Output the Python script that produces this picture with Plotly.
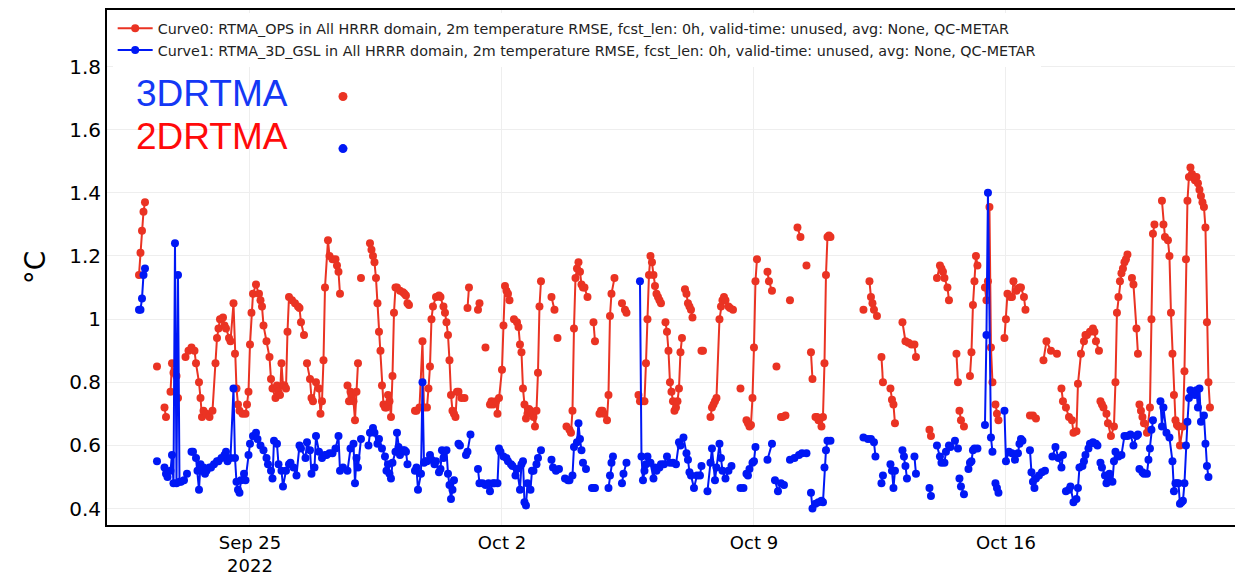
import plotly.graph_objects as go
from datetime import datetime, timedelta

# time axis: hours since 2022-09-21 00:00
BASE = datetime(2022, 9, 21)

red_name = "Curve0: RTMA_OPS in All HRRR domain, 2m temperature RMSE, fcst_len: 0h, valid-time: unused, avg: None, QC-METAR"
blue_name = "Curve1: RTMA_3D_GSL in All HRRR domain, 2m temperature RMSE, fcst_len: 0h, valid-time: unused, avg: None, QC-METAR"

# RTMA_OPS (red) segments of (hour, RMSE)
red_segments = [
    [(22, 1.14), (23, 1.21), (24, 1.28), (25, 1.34), (26, 1.37)],
    [(34, 0.85)],
    [(39, 0.72), (40, 0.69)],
    [(43, 0.77), (44, 0.86), (45, 0.83), (46, 0.83), (47, 0.82), (48, 0.75)],
    [(53, 0.88), (55, 0.90), (57, 0.91), (59, 0.90), (60, 0.86), (62, 0.80), (63, 0.75), (64, 0.69), (65, 0.71),
     (67, 0.70), (69, 0.69), (71, 0.71), (73, 0.86), (74, 0.94), (75, 0.97), (76, 1.00), (78, 1.005), (79, 0.98),
     (80, 0.97), (82, 0.94), (83, 0.93), (85, 1.05), (86, 0.89), (87, 0.78), (88, 0.73), (89, 0.71), (91, 0.70),
     (93, 0.70), (94, 0.73), (95, 0.77), (96, 0.92), (97, 1.02), (98, 1.08), (100, 1.11), (102, 1.08), (103, 1.06),
     (104, 1.04), (105, 0.98), (107, 0.93), (109, 0.88), (110, 0.81), (111, 0.78), (113, 0.75), (114, 0.79),
     (115, 0.77), (116, 0.76), (117, 0.86), (118, 0.79), (119, 0.79), (120, 0.78), (121, 0.96), (122, 1.07),
     (124, 1.06), (126, 1.05), (128, 1.04), (129, 1.035), (130, 0.99), (132, 0.95)],
    [(134, 0.86), (136, 0.81), (137, 0.75), (138, 0.74), (140, 0.80), (142, 0.78), (143, 0.70), (144, 0.74),
     (145, 0.87), (146, 1.10), (148, 1.25), (149, 1.20), (151, 1.19), (153, 1.19), (154, 1.17), (155, 1.15), (156, 1.08)],
    [(161, 0.79), (162, 0.74), (163, 0.77), (164, 0.76), (165, 0.74), (166, 0.68), (167, 0.77), (168, 0.86)],
    [(170, 1.13)],
    [(176, 1.24), (177, 1.22), (178, 1.20), (179, 1.18), (180, 1.13), (181, 1.05), (182, 0.96), (183, 0.90),
     (184, 0.79), (185, 0.73), (186, 0.72), (187, 0.72), (188, 0.76), (189, 0.74), (190, 0.69), (191, 0.82),
     (192, 1.02), (193, 1.10), (194, 1.10), (196, 1.09), (198, 1.085), (199, 1.08), (200, 1.075), (201, 1.05), (202, 1.045)],
    [(206, 0.71), (207, 0.71), (209, 0.72), (211, 0.93), (212, 0.72), (214, 0.72), (215, 0.78), (216, 0.85),
     (217, 1.00), (218, 1.04), (220, 1.07), (222, 1.075), (223, 1.07), (225, 1.04), (226, 1.02), (227, 0.99),
     (228, 0.95), (229, 0.87), (230, 0.76), (231, 0.71), (232, 0.70), (233, 0.69), (234, 0.77), (235, 0.77),
     (237, 0.75), (239, 0.75)],
    [(241, 1.035), (242, 1.10)],
    [(248, 1.03), (249, 1.05)],
    [(253, 0.91)],
    [(256, 0.73), (257, 0.74), (258, 0.73), (260, 0.74), (261, 0.70), (262, 0.75), (264, 0.84), (265, 0.98),
     (266, 1.105), (267, 1.09), (268, 1.08), (269, 1.06)],
    [(272, 1.00), (274, 0.99), (275, 0.975), (276, 0.92), (277, 0.895), (278, 0.78), (279, 0.73), (280, 0.685),
     (281, 0.70), (282, 0.715), (283, 0.71), (284, 0.705), (285, 0.69), (286, 0.66), (287, 0.71), (288, 0.83),
     (289, 1.04), (290, 1.12)],
    [(297, 1.07), (299, 1.03)],
    [(301, 0.94)],
    [(307, 0.66), (309, 0.65), (310, 0.64), (311, 0.71), (312, 0.97), (313, 1.13), (314, 1.16), (315, 1.18),
     (316, 1.15), (317, 1.11), (318, 1.10), (319, 1.10), (321, 1.07)],
    [(325, 0.99), (326, 0.93)],
    [(329, 0.70), (330, 0.71), (331, 0.71), (332, 0.70), (334, 0.68), (335, 0.76), (336, 1.01), (337, 1.08), (339, 1.13)],
    [(344, 1.05), (346, 1.03), (347, 1.02)],
    [(355, 0.76), (356, 0.74), (357, 0.74), (359, 0.74), (360, 0.86), (361, 1.00), (362, 1.14), (363, 1.20),
     (364, 1.18), (365, 1.14), (366, 1.105), (367, 1.08), (368, 1.07), (369, 1.06), (370, 1.05)],
    [(373, 0.99), (374, 0.96), (375, 0.90), (376, 0.80), (377, 0.77), (378, 0.74), (379, 0.71), (380, 0.72),
     (381, 0.74), (382, 0.78), (383, 0.895), (384, 0.94)],
    [(386, 1.095), (387, 1.08), (388, 1.05), (389, 1.04), (390, 1.03), (391, 1.005)],
    [(397, 0.90), (398, 0.90)],
    [(403, 0.69), (404, 0.72), (405, 0.73), (406, 0.74), (407, 0.75), (409, 1.00), (410, 1.04), (411, 1.06),
     (412, 1.07), (413, 1.06), (415, 1.04), (416, 1.035), (418, 1.03)],
    [(423, 0.78)],
    [(427, 0.68), (428, 0.67), (429, 0.66), (430, 0.665), (431, 0.75), (432, 0.91), (433, 1.12), (434, 1.19)],
    [(441, 1.15), (442, 1.12), (444, 1.09)],
    [(447, 0.85)],
    [(450, 0.69), (451, 0.69), (453, 0.695)],
    [(456, 1.06)],
    [(461, 1.29), (463, 1.26)],
    [(467, 1.17)],
    [(470, 0.895), (471, 0.81)],
    [(473, 0.69), (474, 0.69), (475, 0.68), (477, 0.66), (478, 0.69), (479, 0.86), (480, 1.14), (481, 1.26),
     (482, 1.265), (483, 1.26)],
    [(505, 1.03)],
    [(509, 1.12), (510, 1.07), (511, 1.05), (512, 1.03), (514, 1.01)],
    [(517, 0.88), (518, 0.80)],
    [(523, 0.78), (524, 0.745), (525, 0.73), (526, 0.67)],
    [(531, 0.99), (533, 0.93), (535, 0.925), (537, 0.92), (539, 0.92), (540, 0.88)],
    [(549, 0.65), (550, 0.63)],
    [(554, 1.13), (556, 1.17), (557, 1.16), (558, 1.15), (559, 1.13), (561, 1.10), (562, 1.06)],
    [(567, 0.89), (568, 0.80)],
    [(569, 0.71), (570, 0.68), (572, 0.66)],
    [(576, 0.82), (577, 0.895), (578, 1.045), (579, 1.12), (580, 1.20), (581, 1.17)],
    [(586, 1.10), (587, 1.06), (588, 1.12), (589, 1.355), (590, 0.91), (591, 0.80)],
    [(593, 0.73), (594, 0.70), (595, 0.68)],
    [(599, 0.94), (600, 1.00), (601, 1.08), (603, 1.07), (604, 1.07), (605, 1.12), (607, 1.09), (609, 1.10),
     (610, 1.10), (612, 1.07), (613, 1.03)],
    [(616, 0.695), (618, 0.695), (620, 0.685)],
    [(625, 0.87), (627, 0.93), (630, 0.90), (634, 0.89)],
    [(637, 0.78), (638, 0.74), (640, 0.72), (642, 0.69), (644, 0.68), (645, 0.64), (647, 0.645), (648, 0.795),
     (650, 0.89), (652, 0.93), (653, 0.95), (654, 0.95), (656, 0.96), (658, 0.97), (659, 0.96), (660, 0.93), (662, 0.90)],
    [(663, 0.74), (664, 0.73), (665, 0.72), (667, 0.70), (668, 0.67), (670, 0.63), (672, 0.66), (673, 0.80),
     (674, 1.02), (675, 1.07), (676, 1.12), (677, 1.145), (678, 1.16), (679, 1.18), (680, 1.19), (681, 1.205)],
    [(684, 1.13), (685, 1.11), (687, 0.97), (688, 0.89)],
    [(689, 0.73), (690, 0.71), (691, 0.69), (692, 0.67), (694, 0.64), (696, 0.72), (697, 1.00), (698, 1.27), (699, 1.30)],
    [(704, 1.375), (705, 1.30), (706, 1.26), (708, 1.25), (709, 1.20), (710, 1.02), (711, 0.89), (712, 0.76),
     (713, 0.68), (714, 0.665), (715, 0.66), (716, 0.60), (718, 0.66), (719, 0.835), (720, 1.19), (721, 1.375),
     (722, 1.45), (723, 1.48), (724, 1.46), (725, 1.45), (726, 1.44), (727, 1.45), (728, 1.43), (729, 1.41),
     (730, 1.39), (731, 1.37), (732, 1.355), (733, 1.29), (734, 0.99), (735, 0.80), (736, 0.72)],
]

# RTMA_3D_GSL (blue) segments of (hour, RMSE)
blue_segments = [
    [(22, 1.03), (23, 1.03), (24, 1.065), (25, 1.14), (26, 1.16)],
    [(34, 0.55)],
    [(39, 0.53), (40, 0.51), (41, 0.50), (43, 0.52), (44, 0.57), (45, 0.48), (46, 1.24), (47, 0.48), (48, 1.14),
     (49, 0.485), (50, 0.485), (52, 0.49), (54, 0.51)],
    [(57, 0.58), (58, 0.58), (60, 0.56), (61, 0.52), (62, 0.46), (63, 0.54), (64, 0.52), (65, 0.53), (66, 0.51),
     (67, 0.52), (69, 0.53), (70, 0.53), (72, 0.54), (74, 0.55), (75, 0.55), (77, 0.56), (79, 0.57), (80, 0.58),
     (81, 0.55), (83, 0.56), (85, 0.78), (86, 0.56), (87, 0.485), (88, 0.46), (89, 0.45), (90, 0.49), (92, 0.51),
     (93, 0.49), (95, 0.57), (96, 0.605), (98, 0.63), (100, 0.64), (101, 0.62), (103, 0.60), (105, 0.585),
     (107, 0.56), (108, 0.54), (110, 0.52), (111, 0.495), (112, 0.615), (114, 0.605), (115, 0.54), (117, 0.52),
     (118, 0.47), (120, 0.52), (122, 0.54), (123, 0.545), (125, 0.53), (127, 0.505), (129, 0.60), (130, 0.59),
     (133, 0.56), (134, 0.61), (136, 0.585), (137, 0.51), (139, 0.53), (140, 0.63), (142, 0.58), (144, 0.56),
     (146, 0.57), (147, 0.57), (149, 0.575), (151, 0.575), (153, 0.59), (155, 0.63), (156, 0.52), (158, 0.53)],
    [(161, 0.52), (163, 0.59), (165, 0.605), (166, 0.48), (167, 0.56), (168, 0.53), (170, 0.62)],
    [(175, 0.60), (176, 0.64), (178, 0.655), (179, 0.64), (181, 0.605), (182, 0.62), (184, 0.59), (186, 0.565),
     (187, 0.52), (188, 0.54), (189, 0.51), (190, 0.495), (191, 0.545), (193, 0.58), (194, 0.64), (195, 0.595),
     (196, 0.57), (198, 0.585), (199, 0.585), (200, 0.58), (201, 0.54)],
    [(206, 0.52), (207, 0.53), (208, 0.46), (210, 0.51), (211, 0.80), (212, 0.545), (213, 0.55), (214, 0.55),
     (216, 0.57), (217, 0.555), (219, 0.54), (220, 0.55), (222, 0.515), (223, 0.525), (224, 0.585), (225, 0.56),
     (227, 0.585), (228, 0.51), (229, 0.475), (230, 0.43), (231, 0.46), (232, 0.49)],
    [(235, 0.605), (236, 0.60)],
    [(240, 0.57), (241, 0.58), (243, 0.635)],
    [(248, 0.525), (249, 0.48), (251, 0.48), (253, 0.475), (255, 0.48), (256, 0.455), (258, 0.48), (259, 0.48),
     (261, 0.48), (262, 0.59), (263, 0.58), (265, 0.565), (267, 0.56), (268, 0.55), (270, 0.54), (271, 0.535),
     (273, 0.505), (274, 0.525), (276, 0.46), (277, 0.54), (278, 0.55), (279, 0.42), (280, 0.41), (281, 0.48),
     (283, 0.46), (284, 0.52), (285, 0.52), (287, 0.54), (288, 0.56), (290, 0.585)],
    [(297, 0.555), (298, 0.53), (300, 0.52), (302, 0.525)],
    [(306, 0.495), (308, 0.49), (309, 0.49), (311, 0.505), (312, 0.595), (314, 0.61), (315, 0.67), (316, 0.62), (317, 0.585)],
    [(318, 0.545), (320, 0.525)],
    [(324, 0.465), (325, 0.465), (326, 0.465)],
    [(335, 0.465), (336, 0.505), (337, 0.545), (338, 0.565)],
    [(344, 0.48), (345, 0.51), (347, 0.545)],
    [(356, 1.12), (357, 0.565), (358, 0.49), (359, 0.52), (360, 0.54), (361, 0.565), (363, 0.545), (365, 0.495),
     (366, 0.53), (367, 0.52), (369, 0.53), (370, 0.54), (372, 0.54), (374, 0.565), (376, 0.545), (378, 0.545),
     (380, 0.54), (382, 0.61), (383, 0.60), (385, 0.625), (387, 0.575), (388, 0.555), (389, 0.515), (390, 0.505),
     (392, 0.465), (394, 0.505), (396, 0.505), (397, 0.535)],
    [(401, 0.455), (403, 0.545), (404, 0.59), (406, 0.49), (407, 0.53), (409, 0.605), (410, 0.56), (411, 0.52),
     (413, 0.495), (415, 0.52), (417, 0.535)],
    [(423, 0.465), (425, 0.465)],
    [(427, 0.51), (428, 0.505), (429, 0.525), (431, 0.545), (432, 0.55), (433, 0.595)],
    [(441, 0.555), (444, 0.605)],
    [(446, 0.49), (448, 0.455), (450, 0.48), (452, 0.475)],
    [(456, 0.555), (459, 0.56), (462, 0.57), (464, 0.575), (467, 0.575)],
    [(470, 0.45), (471, 0.40), (473, 0.415), (475, 0.42), (477, 0.425), (478, 0.42), (479, 0.53), (480, 0.585),
     (481, 0.615), (483, 0.615)],
    [(505, 0.625), (508, 0.62), (510, 0.62), (512, 0.61), (513, 0.565)],
    [(517, 0.48), (518, 0.505)],
    [(523, 0.54), (524, 0.52), (525, 0.465), (526, 0.52)],
    [(531, 0.585), (532, 0.565), (533, 0.535), (534, 0.495)],
    [(539, 0.565), (540, 0.51)],
    [(549, 0.465), (550, 0.44)],
    [(554, 0.60), (556, 0.565), (557, 0.545), (559, 0.545), (560, 0.58), (562, 0.60), (563, 0.595), (566, 0.615), (568, 0.59)],
    [(569, 0.495), (570, 0.47), (572, 0.445)],
    [(575, 0.525), (576, 0.545), (577, 0.55), (578, 0.585), (579, 0.59), (581, 0.59)],
    [(586, 0.665), (587, 0.95), (588, 1.40), (590, 0.625), (591, 0.58)],
    [(593, 0.48), (594, 0.465), (595, 0.45)],
    [(599, 0.71), (600, 0.55), (602, 0.58), (604, 0.575), (606, 0.555), (608, 0.575), (609, 0.605), (610, 0.62), (611, 0.615)],
    [(616, 0.585), (617, 0.515), (618, 0.485), (619, 0.465), (620, 0.495), (622, 0.505), (624, 0.515), (626, 0.52)],
    [(631, 0.565), (633, 0.595), (635, 0.56), (637, 0.53), (638, 0.57)],
    [(640, 0.455), (642, 0.46), (643, 0.47), (645, 0.42), (647, 0.43), (648, 0.465), (649, 0.53), (651, 0.535),
     (652, 0.55), (653, 0.57), (655, 0.59), (656, 0.605), (658, 0.61), (660, 0.605), (661, 0.60)],
    [(663, 0.545), (664, 0.53), (666, 0.505), (667, 0.48), (668, 0.49), (669, 0.51), (671, 0.485), (672, 0.55),
     (673, 0.58), (675, 0.565), (677, 0.57), (679, 0.63), (681, 0.63), (683, 0.635), (685, 0.60), (687, 0.63), (688, 0.635)],
    [(689, 0.525), (691, 0.515), (692, 0.51), (694, 0.51), (695, 0.555), (696, 0.59), (697, 0.65), (698, 0.68)],
    [(703, 0.74), (704, 0.66), (705, 0.72), (707, 0.64), (709, 0.625), (711, 0.55), (712, 0.455), (713, 0.48),
     (714, 0.48), (715, 0.48), (716, 0.415), (717, 0.42), (718, 0.425), (719, 0.48), (720, 0.60), (721, 0.675),
     (722, 0.75), (723, 0.775), (724, 0.77), (726, 0.76), (727, 0.775), (728, 0.72), (729, 0.78), (730, 0.675),
     (732, 0.695), (733, 0.605), (734, 0.535), (735, 0.50)],
]

# lone marker points near the labels
red_extra = [(158, 1.705)]
blue_extra = [(158, 1.54)]

annot_texts = ["3DRTMA", "2DRTMA"]

RED = "rgb(234,51,35)"
BLUE = "rgb(0,24,245)"


def build(segments):
    xs, ys = [], []
    for seg in segments:
        for h, v in seg:
            xs.append(BASE + timedelta(hours=h))
            ys.append(v)
        xs.append(None)
        ys.append(None)
    return xs, ys


rx, ry = build(red_segments)
bx, by = build(blue_segments)

fig = go.Figure()
fig.add_trace(go.Scatter(x=rx, y=ry, mode="lines+markers", name=red_name,
                         line=dict(color=RED, width=2), marker=dict(color=RED, size=8)))
fig.add_trace(go.Scatter(x=bx, y=by, mode="lines+markers", name=blue_name,
                         line=dict(color=BLUE, width=2), marker=dict(color=BLUE, size=8)))
fig.add_trace(go.Scatter(x=[BASE + timedelta(hours=h) for h, v in red_extra], y=[v for h, v in red_extra],
                         mode="markers", marker=dict(color=RED, size=9), showlegend=False))
fig.add_trace(go.Scatter(x=[BASE + timedelta(hours=h) for h, v in blue_extra], y=[v for h, v in blue_extra],
                         mode="markers", marker=dict(color=BLUE, size=9), showlegend=False))

fig.add_annotation(xref="paper", yref="paper", x=0.024, y=0.8375, xanchor="left", yanchor="middle",
                   text=annot_texts[0], showarrow=False,
                   font=dict(family="Liberation Sans, Arial, sans-serif", size=37, color="#1438f5"))
fig.add_annotation(xref="paper", yref="paper", x=0.024, y=0.754, xanchor="left", yanchor="middle",
                   text=annot_texts[1], showarrow=False,
                   font=dict(family="Liberation Sans, Arial, sans-serif", size=37, color="#ff0a0a"))

# the page body has an 8px default margin, so the figure is sized to fit inside it
fig.update_layout(
    width=1235, height=571,
    margin=dict(l=99, r=2, t=0, b=54),
    paper_bgcolor="white", plot_bgcolor="white",
    font=dict(family="Verdana, DejaVu Sans, sans-serif", color="black"),
    legend=dict(x=0.005, y=0.995, xanchor="left", yanchor="top", bgcolor="white",
                itemwidth=35, font=dict(size=14.3, color="#222")),
    showlegend=True,
)
fig.update_xaxes(
    range=[BASE + timedelta(hours=0.67), BASE + timedelta(hours=756.7)],
    tick0="2022-09-25", dtick=7 * 86400000,
    showgrid=True, gridcolor="#eeeeee", gridwidth=1,
    showline=True, linecolor="black", linewidth=2, mirror=True,
    ticks="", tickfont=dict(size=18), zeroline=False,
)
fig.update_yaxes(
    range=[0.348, 1.979], tick0=0.4, dtick=0.2,
    showgrid=True, gridcolor="#eeeeee", gridwidth=1,
    showline=True, linecolor="black", linewidth=2, mirror=True,
    ticks="", tickfont=dict(size=20), zeroline=False,
    title=dict(text="°C", font=dict(size=28), standoff=15),
)

fig.write_html("out.html")
